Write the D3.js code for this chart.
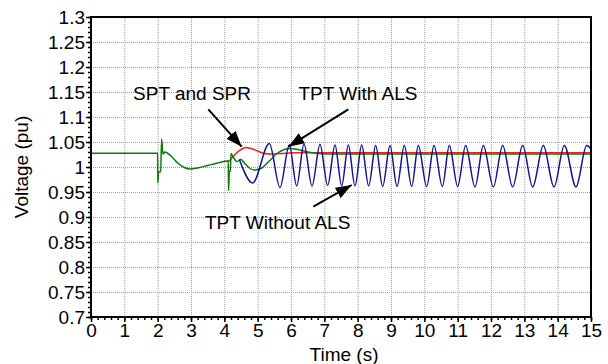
<!DOCTYPE html>
<html>
<head>
<meta charset="utf-8">
<script src="https://cdn.jsdelivr.net/npm/d3@7"></script>
<style>
  body { margin: 0; background: #fff; }
  text { font-family: "Liberation Sans", Arial, sans-serif; fill: #000; }
</style>
</head>
<body>
<svg></svg>
<script>
const size = {w: 608, h: 364};
const margin = {t: 17, r: 17, b: 47, l: 91};

// tick labels
const xTicks = [0, 1, 2, 3, 4, 5, 6, 7, 8, 9, 10, 11, 12, 13, 14, 15];
const yTicks = [0.7, 0.75, 0.8, 0.85, 0.9, 0.95, 1, 1.05, 1.1, 1.15, 1.2, 1.25, 1.3];

// common part of the response, before the lines split (time s, voltage pu)
const preFault = [
  [0, 1.0273], [2.0, 1.0273], [2.005, 0.968], [2.03, 0.990], [2.09, 0.991],
  [2.12, 1.056], [2.16, 1.026], [2.22, 1.030], [2.4, 1.022], [2.6, 1.008],
  [2.8, 0.999], [2.95, 0.996], [3.2, 0.998], [3.5, 1.003], [3.8, 1.008], [4.1, 1.012]
];

// SPT and SPR
const sptPost = [
  [4.12, 1.012], [4.2, 1.016], [4.35, 1.027], [4.5, 1.035], [4.65, 1.039],
  [4.8, 1.037], [5.0, 1.032], [5.2, 1.027], [5.4, 1.026], [5.7, 1.027],
  [6.2, 1.0285], [15, 1.0285]
];

// TPT with ALS
const alsPost = [
  [4.12, 1.012], [4.125, 0.953], [4.14, 0.975], [4.15, 0.991], [4.18, 0.992],
  [4.2, 1.027], [4.25, 1.022], [4.37, 1.011], [4.5, 1.015], [4.6, 1.008],
  [4.75, 0.998], [4.9, 0.994], [5.1, 0.997], [5.35, 1.012], [5.6, 1.028],
  [5.8, 1.035], [5.97, 1.037], [6.2, 1.035], [6.5, 1.030], [6.8, 1.027],
  [7.0, 1.026], [15, 1.026]
];

// TPT without ALS (peaks and troughs)
const noAls = [
  [4.45, 1.015], [4.85, 0.968], [5.35, 1.047], [5.67, 0.959], [5.95, 1.044],
  [6.17, 0.962], [6.39, 1.046], [6.63, 0.962], [6.87, 1.045], [7.1, 0.963],
  [7.32, 1.044], [7.52, 0.962], [7.72, 1.044], [7.92, 0.962], [8.12, 1.044],
  [8.33, 0.962], [8.54, 1.043], [8.75, 0.961], [8.97, 1.043], [9.18, 0.961],
  [9.4, 1.043], [9.62, 0.961], [9.82, 1.043], [10.07, 0.961], [10.29, 1.043],
  [10.54, 0.961], [10.75, 1.043], [11.0, 0.961], [11.24, 1.043], [11.52, 0.96],
  [11.77, 1.043], [12.07, 0.96], [12.35, 1.043], [12.65, 0.96], [12.95, 1.043],
  [13.25, 0.96], [13.57, 1.043], [13.89, 0.96], [14.2, 1.043], [14.55, 0.96],
  [14.87, 1.043], [15, 1.036]
];

// annotations: label (centre, baseline) and arrow (from -> tip), in data units
const notes = [
  {text: 'SPT and SPR', t: 3.03, v: 1.134, from: [3.52, 1.1154], to: [4.52, 1.0406]},
  {text: 'TPT With ALS', t: 8.01, v: 1.134, from: [7.72, 1.1154], to: [5.92, 1.0406]},
  {text: 'TPT Without ALS', t: 5.6, v: 0.876, from: [6.67, 0.9206], to: [7.82, 0.964]}
];

const svg = d3.select('svg')
    .attr('width', size.w)
    .attr('height', size.h);

const x = d3.scaleLinear().domain([0, 15]).range([margin.l, size.w - margin.r]);
const y = d3.scaleLinear().domain([0.7, 1.3]).range([size.h - margin.b, margin.t]);
const pw = x(15) - x(0), ph = y(0.7) - y(1.3);

// grid
svg.append('g')
    .attr('transform', `translate(0,${y(0.7)})`)
    .call(d3.axisBottom(x).tickValues(xTicks.slice(1, -1)).tickSize(-ph).tickFormat(''))
    .call(g => g.select('.domain').remove())
    .call(g => g.selectAll('line').attr('stroke', '#a0a0a0').attr('stroke-dasharray', '1,1'));
svg.append('g')
    .attr('transform', `translate(${x(0)},0)`)
    .call(d3.axisLeft(y).tickValues(yTicks.slice(1, -1)).tickSize(-pw).tickFormat(''))
    .call(g => g.select('.domain').remove())
    .call(g => g.selectAll('line').attr('stroke', '#a0a0a0').attr('stroke-dasharray', '1,1'));

// lines
const line = d3.line()
    .x(d => x(d[0]))
    .y(d => y(d[1]))
    .curve(d3.curveMonotoneX);

// red is hidden under green before the split, so it is drawn from there
svg.append('path')
    .datum(preFault.slice(-1).concat(sptPost))
    .attr('fill', 'none')
    .attr('stroke', '#ff1a1a')
    .attr('stroke-width', 1.5)
    .attr('d', line);
svg.append('path')
    .datum(preFault.concat(alsPost))
    .attr('fill', 'none')
    .attr('stroke', '#0c7a0c')
    .attr('stroke-width', 1.5)
    .attr('d', line);
svg.append('path')
    .datum(noAls)
    .attr('fill', 'none')
    .attr('stroke', '#14148c')
    .attr('stroke-width', 1.5)
    .attr('d', line);

// frame
svg.append('rect')
    .attr('x', x(0)).attr('y', y(1.3))
    .attr('width', pw).attr('height', ph)
    .attr('fill', 'none')
    .attr('stroke', '#000')
    .attr('stroke-width', 2);

// axes with minor ticks
const fontSize = 19;
const xMinor = d3.range(0, 76).map(d => d / 5);
const yMinor = d3.range(70, 131).map(d => d / 100);

svg.append('g')
    .attr('transform', `translate(0,${y(0.7)})`)
    .call(d3.axisBottom(x).tickValues(xMinor).tickSize(3).tickFormat(''))
    .call(g => g.select('.domain').remove());
svg.append('g')
    .attr('transform', `translate(0,${y(0.7)})`)
    .call(d3.axisBottom(x).tickValues(xTicks).tickSize(5).tickPadding(2).tickFormat(d => d))
    .call(g => g.select('.domain').remove())
    .call(g => g.selectAll('text').attr('font-size', fontSize).attr('font-family', null));
svg.append('g')
    .attr('transform', `translate(${x(0)},0)`)
    .call(d3.axisLeft(y).tickValues(yMinor).tickSize(3).tickFormat(''))
    .call(g => g.select('.domain').remove());
svg.append('g')
    .attr('transform', `translate(${x(0)},0)`)
    .call(d3.axisLeft(y).tickValues(yTicks).tickSize(5).tickPadding(1).tickFormat(d => d))
    .call(g => g.select('.domain').remove())
    .call(g => g.selectAll('text').attr('font-size', fontSize).attr('font-family', null));
svg.selectAll('.tick line').filter(function() { return !this.getAttribute('stroke-dasharray'); })
    .attr('stroke-width', 1.5);

// axis titles
svg.append('text')
    .attr('x', (x(0) + x(15)) / 2 + 3)
    .attr('y', size.h - 3)
    .attr('text-anchor', 'middle')
    .attr('font-size', fontSize)
    .text('Time (s)');
svg.append('text')
    .attr('transform', `translate(28,${(y(0.7) + y(1.3)) / 2}) rotate(-90)`)
    .attr('text-anchor', 'middle')
    .attr('font-size', fontSize)
    .text('Voltage (pu)');

// annotations
svg.append('defs').append('marker')
    .attr('id', 'head')
    .attr('markerUnits', 'userSpaceOnUse')
    .attr('markerWidth', 17)
    .attr('markerHeight', 12)
    .attr('refX', 16)
    .attr('refY', 6)
    .attr('orient', 'auto')
    .append('path')
    .attr('d', 'M0,0 L16,6 L0,12 Z')
    .attr('fill', '#000');

const noteG = svg.append('g');
noteG.selectAll('text')
    .data(notes)
    .join('text')
    .attr('x', d => x(d.t))
    .attr('y', d => y(d.v))
    .attr('text-anchor', 'middle')
    .attr('font-size', fontSize)
    .text(d => d.text);
noteG.selectAll('line')
    .data(notes)
    .join('line')
    .attr('x1', d => x(d.from[0]))
    .attr('y1', d => y(d.from[1]))
    .attr('x2', d => x(d.to[0]))
    .attr('y2', d => y(d.to[1]))
    .attr('stroke', '#000')
    .attr('stroke-width', 2)
    .attr('marker-end', 'url(#head)');
</script>
</body>
</html>
